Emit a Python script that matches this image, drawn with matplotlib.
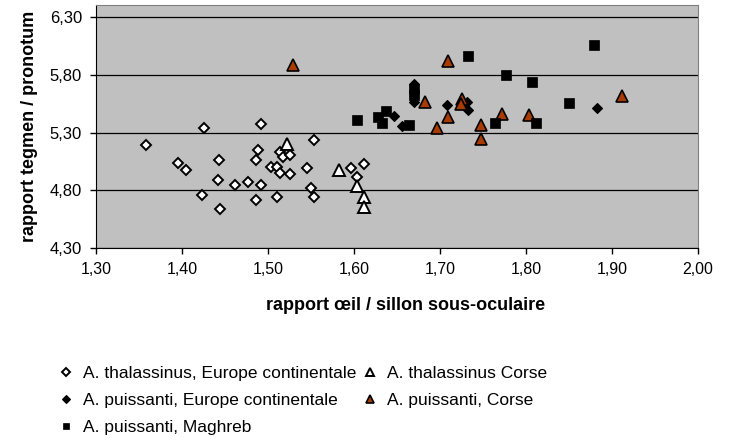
import numpy as np
import matplotlib
matplotlib.use("Agg")
import matplotlib.pyplot as plt
from matplotlib.ticker import FuncFormatter

plt.rcParams['font.family'] = ['Liberation Sans', 'DejaVu Sans']

# A. thalassinus, Europe continentale
thal_ec_x = [1.358, 1.395, 1.405, 1.425, 1.423, 1.443, 1.442, 1.444, 1.462, 1.477,
             1.492, 1.488, 1.486, 1.492, 1.486, 1.503, 1.511, 1.514, 1.518, 1.526,
             1.514, 1.526, 1.511, 1.545, 1.554, 1.550, 1.554, 1.597, 1.612, 1.604]
thal_ec_y = [5.188, 5.035, 4.977, 5.341, 4.758, 5.061, 4.885, 4.634, 4.842, 4.870,
             5.370, 5.147, 5.061, 4.842, 4.717, 4.998, 5.003, 5.134, 5.089, 5.107,
             4.951, 4.938, 4.743, 4.996, 5.232, 4.816, 4.743, 4.996, 5.024, 4.914]

# A. thalassinus Corse
thal_co_x = [1.522, 1.582, 1.604, 1.612, 1.612]
thal_co_y = [5.200, 4.974, 4.836, 4.738, 4.651]

# A. puissanti, Europe continentale
puis_ec_x = [1.670, 1.670, 1.647, 1.656, 1.708, 1.731, 1.732, 1.882]
puis_ec_y = [5.719, 5.568, 5.440, 5.355, 5.537, 5.568, 5.498, 5.509]

# A. puissanti, Corse
puis_co_x = [1.529, 1.709, 1.683, 1.725, 1.724, 1.709, 1.697, 1.748, 1.748, 1.772,
             1.804, 1.912]
puis_co_y = [5.881, 5.921, 5.561, 5.589, 5.550, 5.433, 5.338, 5.364, 5.247, 5.459,
             5.448, 5.615]

# A. puissanti, Maghreb
puis_ma_x = [1.670, 1.670, 1.603, 1.637, 1.628, 1.633, 1.664, 1.732, 1.777, 1.807,
             1.850, 1.879, 1.764, 1.812]
puis_ma_y = [5.676, 5.624, 5.405, 5.488, 5.433, 5.379, 5.364, 5.962, 5.795, 5.739,
             5.557, 6.057, 5.379, 5.379]

x_ticks = [1.30, 1.40, 1.50, 1.60, 1.70, 1.80, 1.90, 2.00]
y_ticks = [4.30, 4.80, 5.30, 5.80, 6.30]

fig = plt.figure(figsize=(7.33, 4.38), dpi=100)
ax = fig.add_axes([96 / 733, 1 - 248 / 438, 602 / 733, 243 / 438])
ax.set_facecolor('#C0C0C0')
ax.set_xlim(1.30, 2.00)
ax.set_ylim(4.30, 6.404)

ax.plot(thal_ec_x, thal_ec_y, ls='none', marker='D', ms=5.4, mfc='white',
        mec='black', mew=1.4, label='A. thalassinus, Europe continentale')
ax.plot(thal_co_x, thal_co_y, ls='none', marker='^', ms=9, mfc='white',
        mec='black', mew=1.4, label='A. thalassinus Corse')
ax.plot(puis_ec_x, puis_ec_y, ls='none', marker='D', ms=5.6, mfc='black',
        mec='black', mew=0.8, label='A. puissanti, Europe continentale')
ax.plot(puis_co_x, puis_co_y, ls='none', marker='^', ms=9, mfc='#A83C00',
        mec='black', mew=1.2, label='A. puissanti, Corse')
ax.plot(puis_ma_x, puis_ma_y, ls='none', marker='s', ms=7, mfc='black',
        mec='black', mew=0.5, label='A. puissanti, Maghreb')

comma = FuncFormatter(lambda v, p: f"{v:.2f}".replace('.', ','))
ax.set_xticks(x_ticks)
ax.set_yticks(y_ticks)
ax.xaxis.set_major_formatter(comma)
ax.yaxis.set_major_formatter(comma)
ax.tick_params(axis='x', direction='out', length=4, width=1, pad=6, labelsize=11.5)
ax.tick_params(axis='y', direction='out', length=4, width=1, pad=6, labelsize=12)

ax.yaxis.grid(True, color='black', lw=0.9)
ax.set_axisbelow(True)
for s in ['top', 'right']:
    ax.spines[s].set_color('#808080')
for s in ['left', 'bottom']:
    ax.spines[s].set_color('black')

fig.text(406 / 733, 1 - 306 / 438, 'rapport œil / sillon sous-oculaire',
         ha='center', va='center', fontsize=13, fontweight='bold')
fig.text(30 / 733, 1 - 126 / 438, 'rapport tegmen / pronotum', rotation=90,
         ha='center', va='center', fontsize=13, fontweight='bold')

# legend: column 1 gets the first three entries
h, l = ax.get_legend_handles_labels()
order = [0, 2, 4, 1, 3]
leg = fig.legend([h[i] for i in order], [l[i] for i in order], ncol=2,
                 loc='upper left', bbox_to_anchor=(58 / 733, 1 - 366 / 438),
                 frameon=False, borderpad=0, borderaxespad=0, fontsize=12.5,
                 handlelength=0.95, handletextpad=0.5, columnspacing=0.3,
                 labelspacing=0.68, markerscale=0.7)

fig.savefig('out.png', dpi=100)
